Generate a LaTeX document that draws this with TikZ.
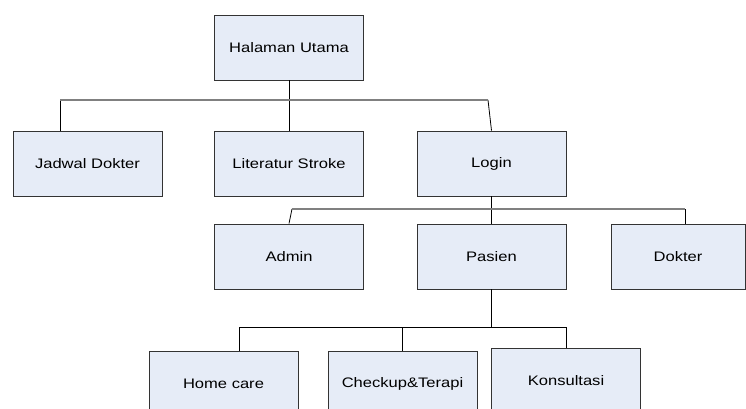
\documentclass[tikz,border=0pt]{standalone}
\usepackage{fontspec}
\setmainfont[FakeStretch=1.2]{Liberation Sans}
\definecolor{boxfill}{RGB}{230,236,247}
\definecolor{busgray}{RGB}{128,128,128}

\begin{document}
\begin{tikzpicture}[x=1pt, y=-1pt,
    menu/.style={draw=black!80, fill=boxfill, line width=0.9pt,
        minimum width=149pt, minimum height=65pt, inner sep=0pt,
        font=\fontsize{13.8}{16}\selectfont},
    bus/.style={draw=busgray, line width=1.4pt},
    link/.style={draw=black, line width=0.8pt}]

    \clip (0,0) rectangle (746,409);

    % level 0
    \node[menu] (utama) at (289,47.5) {Halaman Utama};

    % level 1
    \node[menu] (jadwal) at (87.5,163.5) {Jadwal Dokter};
    \node[menu] (literatur) at (289,163.5) {Literatur Stroke};
    \node[menu] (login) at (491.5,163.5) {Login};

    % level 2
    \node[menu] (admin) at (289,256.5) {Admin};
    \node[menu] (pasien) at (491.5,256.5) {Pasien};
    \node[menu, minimum width=134pt] (dokter) at (678,257) {Dokter};

    % level 3
    \node[menu] (homecare) at (223.5,383.5) {Home care};
    \node[menu] (checkup) at (402.5,383.5) {Checkup\&Terapi};
    \node[menu] (konsultasi) at (566,380.5) {Konsultasi};

    % level 0 -> 1
    \coordinate (b1w) at (60,100);
    \coordinate (b1e) at (488,100);
    \draw[link] (utama.south) -- (literatur.north);
    \draw[link] (b1w) -- (b1w |- jadwal.north);
    \draw[link] (b1e) -- (login.north);
    \draw[bus] (b1w) -- (b1e);

    % level 1 -> 2
    \coordinate (b2w) at (292,209);
    \coordinate (b2e) at (685,209);
    \draw[link] (login.south) -- (pasien.north);
    \draw[link] (b2w) -- (admin.north);
    \draw[link] (b2e) -- (b2e |- dokter.north);
    \draw[bus] (b2w) -- (b2e);

    % level 2 -> 3
    \coordinate (b3w) at (239,327);
    \coordinate (b3e) at (566,327);
    \draw[link] (pasien.south) -- (pasien.south |- b3w);
    \draw[link] (b3w) -- (b3w |- homecare.north);
    \draw[link] (checkup.north) -- (checkup.north |- b3w);
    \draw[link] (b3e) -- (konsultasi.north);
    \draw[link] (b3w) -- (b3e);
\end{tikzpicture}
\end{document}
